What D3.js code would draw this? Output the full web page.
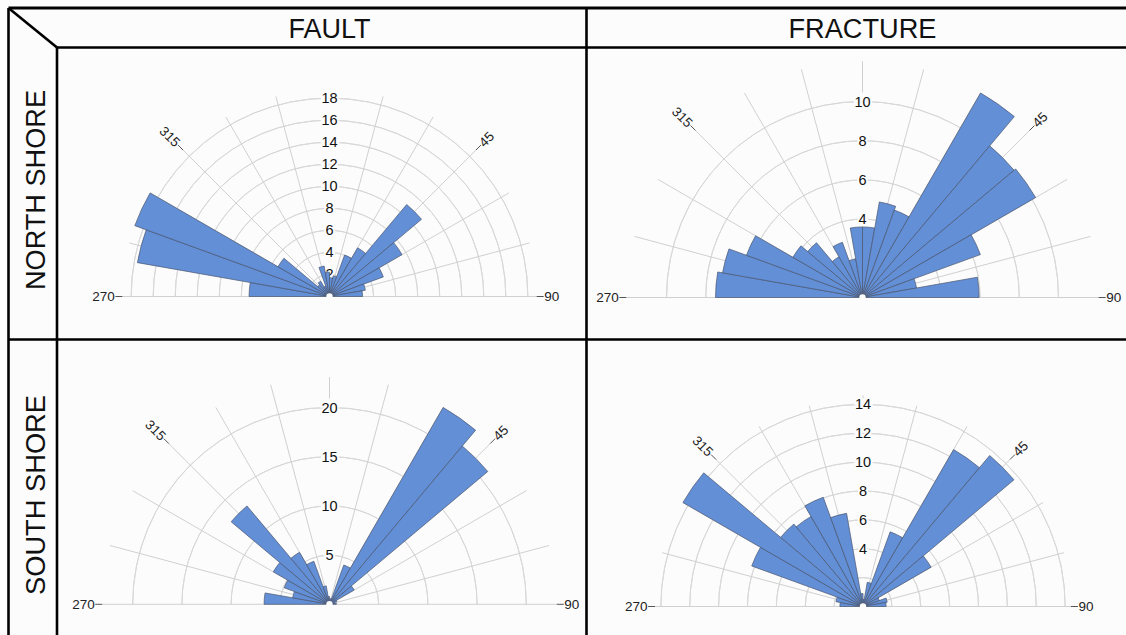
<!DOCTYPE html>
<html>
<head>
<meta charset="utf-8">
<script src="https://cdn.jsdelivr.net/npm/d3@7"></script>
<style>
  html, body { margin: 0; padding: 0; background: #fcfcfc; }
  svg { display: block; font-family: "Liberation Sans", Arial, sans-serif; }
</style>
</head>
<body>
<svg id="chart" width="1126" height="635"></svg>
<script>
// Petal start azimuths (10° bins from 270° through north to 90°)
const binStarts = [270, 280, 290, 300, 310, 320, 330, 340, 350, 0, 10, 20, 30, 40, 50, 60, 70, 80];

// Counts per bin
const northFault    = [7.3, 17.7, 18.8, 5.4, 1.4, 1.6, 1.0, 2.8, 2.2, 1.7, 1.9, 4.0, 5.1, 10.9, 7.6, 5.2, 3.3, 3.0];
const northFracture = [7.5, 7.25, 6.3, 4.1, 3.65, 2.4, 3.0, 2.0, 3.6, 3.6, 4.95, 4.75, 12.05, 10.1, 10.2, 6.4, 2.8, 5.95];
const southFault    = [6.65, 3.8, 4.9, 6.6, 13.05, 6.1, 4.65, 1.9, 0.8, 0.3, 0.6, 4.25, 23.1, 21.0, 2.9, 0.8, 0.5, 0.7];
const southFracture = [1.6, 1.9, 8.2, 14.4, 7.45, 7.2, 8.05, 6.55, 0.9, 0.5, 1.7, 5.5, 12.55, 13.65, 5.45, 1.2, 1.7, 1.6];

// Concentric rings and their labels
const northFaultRings     = [2, 4, 6, 8, 10, 12, 14, 16, 18];
const northFaultLabels    = [2, 4, 6, 8, 10, 12, 14, 16, 18];
const northFractureRings  = [2, 4, 6, 8, 10];
const northFractureLabels = [4, 6, 8, 10];
const southFaultRings     = [5, 10, 15, 20];
const southFaultLabels    = [5, 10, 15, 20];
const southFractureRings  = [2, 4, 6, 8, 10, 12, 14];
const southFractureLabels = [4, 6, 8, 10, 12, 14];

// Azimuth grid and labelled directions
const spokeAngles = [270, 285, 300, 315, 330, 345, 0, 15, 30, 45, 60, 75, 90];
const directionLabels = [270, 315, 45, 90];

// Table headers
const columnTitles = ["FAULT", "FRACTURE"];
const rowTitles = ["NORTH SHORE", "SOUTH SHORE"];

const svg = d3.select("#chart");
const rad = d => d * Math.PI / 180;

// ---- table frame ----
const frame = svg.append("g").attr("stroke", "#000").attr("fill", "none").attr("stroke-width", 2.6);
const X0 = 8.5, XL = 57, XC = 586.5, XR = 1126, Y0 = 8, YH = 47.5, YR = 339.5, YB = 635;
frame.append("line").attr("x1", X0).attr("y1", Y0).attr("x2", XR).attr("y2", Y0).attr("stroke-width", 3);
frame.append("line").attr("x1", X0).attr("y1", Y0).attr("x2", X0).attr("y2", YB);
frame.append("line").attr("x1", X0).attr("y1", Y0).attr("x2", XL).attr("y2", YH);
frame.append("line").attr("x1", XL).attr("y1", YH).attr("x2", XR).attr("y2", YH);
frame.append("line").attr("x1", XL).attr("y1", YH).attr("x2", XL).attr("y2", YB);
frame.append("line").attr("x1", XC).attr("y1", Y0).attr("x2", XC).attr("y2", YB);
frame.append("line").attr("x1", X0).attr("y1", YR).attr("x2", XR).attr("y2", YR);

// column headers
const headerX = [329.5, 862.5];
const headerLen = [82, 148];
columnTitles.forEach((t, i) => {
  svg.append("text")
    .attr("x", headerX[i]).attr("y", 38)
    .attr("text-anchor", "middle")
    .attr("font-size", 27)
    .attr("fill", "#111")
    .attr("textLength", headerLen[i])
    .attr("lengthAdjust", "spacingAndGlyphs")
    .text(t);
});

// row headers
const rowY = [190, 495];
rowTitles.forEach((t, i) => {
  svg.append("text")
    .attr("transform", `translate(44.5,${rowY[i]}) rotate(-90)`)
    .attr("text-anchor", "middle")
    .attr("font-size", 27)
    .attr("fill", "#111")
    .attr("textLength", 200)
    .attr("lengthAdjust", "spacingAndGlyphs")
    .text(t);
});

// ---- rose panels ----
const panels = [
  { values: northFault,    rings: northFaultRings,    labels: northFaultLabels,    cx: 329.5, cy: 296.5, ppu: 11.02 },
  { values: northFracture, rings: northFractureRings, labels: northFractureLabels, cx: 862.5, cy: 297.5, ppu: 19.6 },
  { values: southFault,    rings: southFaultRings,    labels: southFaultLabels,    cx: 329.5, cy: 604.3, ppu: 9.84 },
  { values: southFracture, rings: southFractureRings, labels: southFractureLabels, cx: 863,   cy: 606.5, ppu: 14.44 }
];

panels.forEach(p => {
  const vmax = d3.max(p.values);
  const r = d3.scaleLinear().domain([0, vmax]).range([0, vmax * p.ppu]);
  const R = r(vmax);
  const g = svg.append("g").attr("transform", `translate(${p.cx},${p.cy})`);
  const pt = (a, rr) => [rr * Math.sin(rad(a)), -rr * Math.cos(rad(a))];

  // rings (half circles from 270 through 0 to 90)
  const ringArc = d3.arc().startAngle(rad(-90)).endAngle(rad(90));
  g.append("g").selectAll("path").data(p.rings).join("path")
    .attr("d", d => ringArc.innerRadius(r(d)).outerRadius(r(d))())
    .attr("fill", "none").attr("stroke", "#d8d8d8").attr("stroke-width", 1);

  // spokes (north spoke only beyond the value labels)
  const lastRing = r(d3.max(p.labels));
  g.append("g").selectAll("line").data(spokeAngles).join("line")
    .attr("x1", 0)
    .attr("y1", d => d === 0 ? -(lastRing + 9) : 0)
    .attr("x2", d => pt(d, R)[0])
    .attr("y2", d => pt(d, R)[1])
    .attr("stroke", "#d0d0d0").attr("stroke-width", 1);

  // direction ticks and labels
  directionLabels.forEach(a => {
    const [x1, y1] = pt(a, R);
    const [x2, y2] = pt(a, R + 7);
    g.append("line").attr("x1", x1).attr("y1", y1).attr("x2", x2).attr("y2", y2)
      .attr("stroke", "#555").attr("stroke-width", 1);
    const [lx, ly] = pt(a, R + 7.5);
    const left = a > 180;
    const rot = left ? a - 270 : a - 90;
    g.append("text")
      .attr("transform", `translate(${lx},${ly}) rotate(${rot})`)
      .attr("text-anchor", left ? "end" : "start")
      .attr("dominant-baseline", "central")
      .attr("font-size", 13.5)
      .attr("fill", "#222")
      .text(a);
  });

  // ring value labels along north
  g.append("g").selectAll("text").data(p.labels).join("text")
    .attr("x", 0).attr("y", d => -r(d))
    .attr("text-anchor", "middle")
    .attr("dominant-baseline", "central")
    .attr("font-size", 14.5)
    .attr("fill", "#111")
    .attr("stroke", "#fcfcfc").attr("stroke-width", 4)
    .attr("paint-order", "stroke")
    .text(d => d);

  // petals
  const petal = d3.arc().innerRadius(0);
  g.append("g").selectAll("path").data(p.values).join("path")
    .attr("d", (d, i) => petal
      .outerRadius(r(d))
      .startAngle(rad(binStarts[i]))
      .endAngle(rad(binStarts[i] + 10))())
    .attr("fill", "#628fd6")
    .attr("stroke", "#4b5670")
    .attr("stroke-width", 0.7)
    .attr("stroke-linejoin", "round");

  // hub
  g.append("circle").attr("r", 3.2).attr("fill", "#fcfcfc");
});
</script>
</body>
</html>
